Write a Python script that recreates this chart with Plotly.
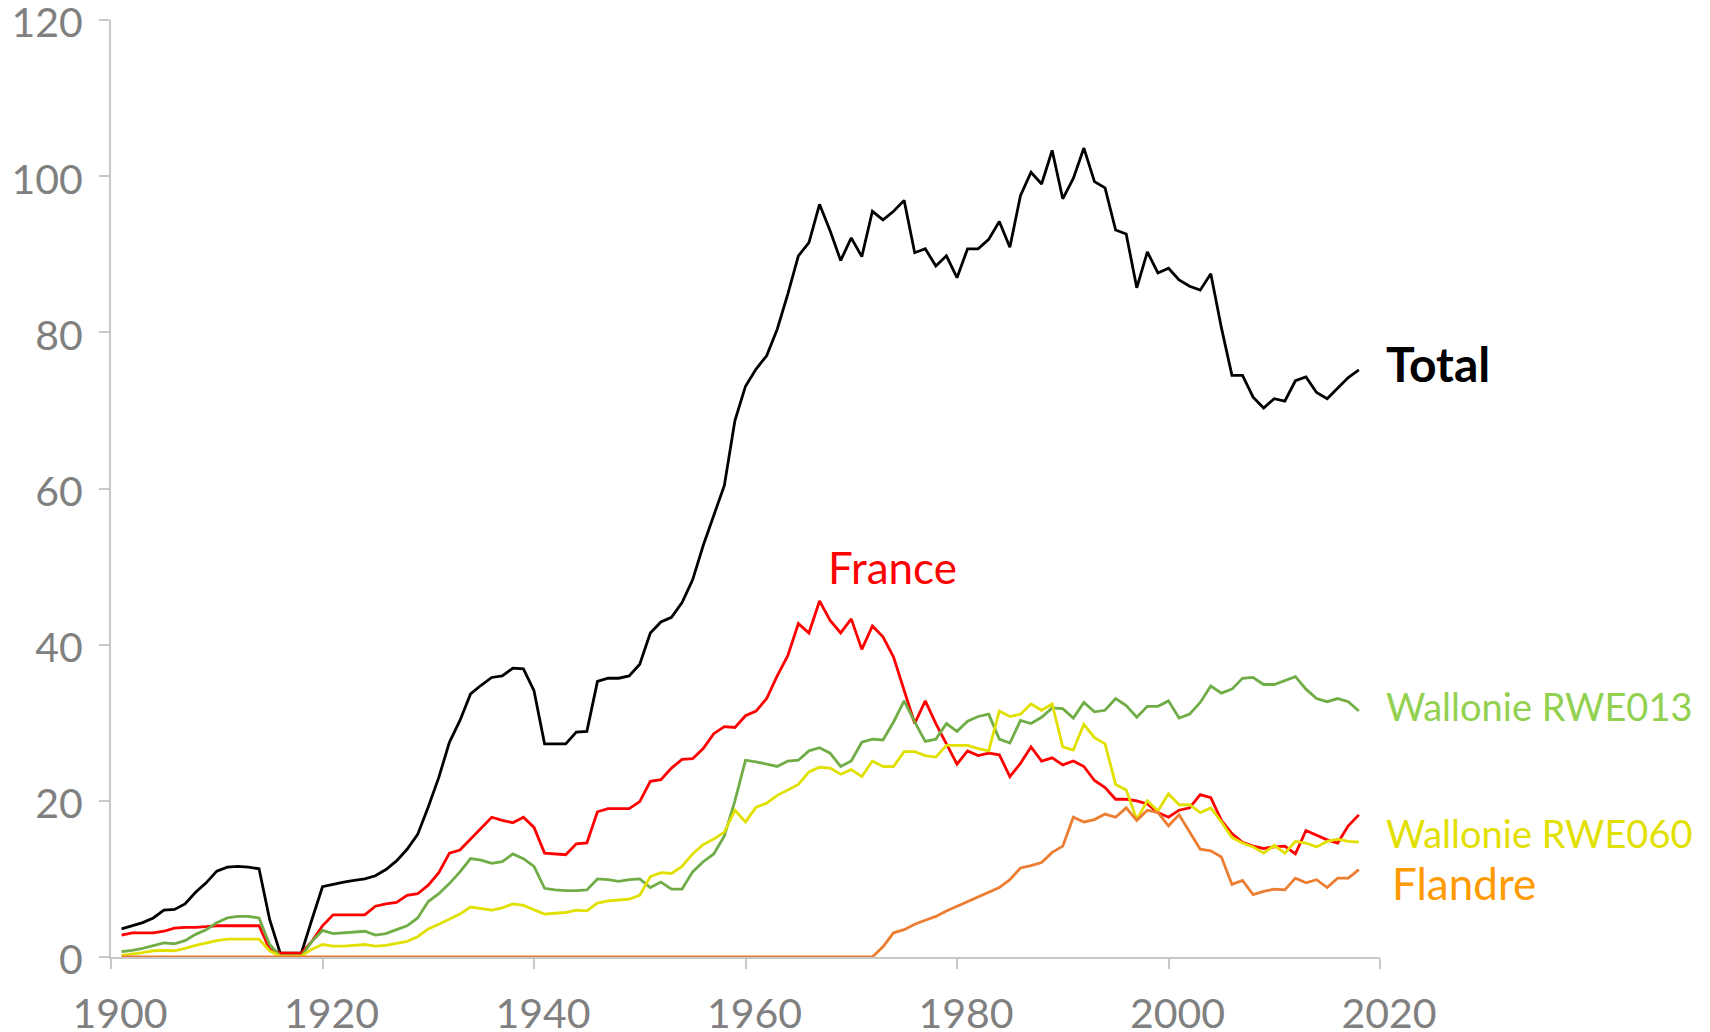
import plotly.graph_objects as go

years = list(range(1901, 2019))

total = [3.6, 4.0, 4.4, 5.0, 6.0, 6.1, 6.8, 8.3, 9.5, 11.0,
         11.5, 11.6, 11.5, 11.3, 4.8, 0.5, 0.5, 0.5, 4.8, 9.0,
         9.3, 9.6, 9.8, 10.0, 10.4, 11.2, 12.3, 13.8, 15.7, 19.2,
         23.0, 27.5, 30.3, 33.7, 34.8, 35.8, 36.0, 37.0, 36.9, 34.1,
         27.3, 27.3, 27.3, 28.8, 28.9, 35.3, 35.7, 35.7, 36.0, 37.5,
         41.5, 42.9, 43.5, 45.4, 48.3, 52.7, 56.5, 60.4, 68.7, 73.1,
         75.3, 77.0, 80.4, 84.9, 89.8, 91.5, 96.4, 93.0, 89.2, 92.1,
         89.7, 95.5, 94.4, 95.5, 96.9, 90.2, 90.7, 88.5, 89.8, 87.0,
         90.7, 90.7, 91.9, 94.2, 90.9, 97.5, 100.5, 99.0, 103.3, 97.1,
         99.7, 103.6, 99.3, 98.5, 93.1, 92.6, 85.7, 90.3, 87.6, 88.2,
         86.7, 85.9, 85.4, 87.5, 80.6, 74.5, 74.5, 71.7, 70.3, 71.5,
         71.2, 73.8, 74.3, 72.3, 71.5, 72.8, 74.2, 75.2]

france = [2.8, 3.1, 3.1, 3.1, 3.3, 3.7, 3.8, 3.8, 3.9, 4.0,
          4.0, 4.0, 4.0, 4.0, 1.0, 0.5, 0.5, 0.5, 2.0, 4.0,
          5.4, 5.4, 5.4, 5.4, 6.5, 6.8, 7.0, 7.9, 8.1, 9.2,
          10.8, 13.3, 13.7, 15.1, 16.6, 17.9, 17.5, 17.2, 17.9, 16.6,
          13.3, 13.2, 13.1, 14.5, 14.6, 18.6, 19.0, 19.0, 19.0, 19.9,
          22.5, 22.7, 24.2, 25.3, 25.4, 26.7, 28.6, 29.5, 29.4, 30.9,
          31.5, 33.1, 36.0, 38.6, 42.7, 41.5, 45.6, 43.1, 41.5, 43.3,
          39.4, 42.4, 41.0, 38.4, 34.1, 29.9, 32.8, 29.9, 27.3, 24.7,
          26.4, 25.8, 26.1, 25.9, 23.1, 24.8, 26.9, 25.1, 25.5, 24.6,
          25.1, 24.4, 22.6, 21.7, 20.2, 20.2, 20.0, 19.6, 18.5, 17.9,
          18.8, 19.1, 20.8, 20.4, 17.5, 15.8, 14.7, 14.2, 13.9, 14.1,
          14.2, 13.2, 16.2, 15.6, 15.0, 14.6, 16.8, 18.2]

rwe013 = [0.7, 0.85, 1.1, 1.5, 1.8, 1.7, 2.1, 2.9, 3.5, 4.4,
          5.0, 5.2, 5.2, 5.0, 1.6, 0.1, 0.1, 0.1, 2.0, 3.4,
          3.0, 3.1, 3.2, 3.3, 2.8, 3.0, 3.5, 4.0, 5.0, 7.1,
          8.1, 9.4, 10.9, 12.6, 12.4, 12.0, 12.2, 13.2, 12.6, 11.6,
          8.8, 8.6, 8.5, 8.5, 8.6, 10.0, 9.9, 9.7, 9.9, 10.0,
          8.9, 9.6, 8.7, 8.7, 10.9, 12.2, 13.2, 15.5, 20.0, 25.2,
          25.0, 24.7, 24.4, 25.1, 25.2, 26.4, 26.8, 26.1, 24.4, 25.1,
          27.5, 27.9, 27.8, 30.1, 32.8, 30.1, 27.6, 27.9, 29.9, 28.9,
          30.2, 30.8, 31.1, 27.9, 27.4, 30.3, 29.9, 30.7, 31.9, 31.8,
          30.6, 32.6, 31.4, 31.6, 33.1, 32.2, 30.7, 32.1, 32.1, 32.8,
          30.6, 31.1, 32.6, 34.7, 33.8, 34.3, 35.7, 35.8, 34.9, 34.9,
          35.4, 35.9, 34.3, 33.1, 32.7, 33.1, 32.7, 31.5]

rwe060 = [0.2, 0.35, 0.55, 0.8, 0.85, 0.8, 1.1, 1.5, 1.8, 2.1,
          2.3, 2.3, 2.3, 2.3, 0.8, 0.1, 0.1, 0.1, 1.0, 1.6,
          1.4, 1.4, 1.5, 1.6, 1.4, 1.5, 1.75, 2.0, 2.6, 3.6,
          4.2, 4.8, 5.5, 6.4, 6.2, 6.0, 6.3, 6.8, 6.6, 6.0,
          5.5, 5.6, 5.7, 6.0, 5.9, 6.9, 7.2, 7.3, 7.4, 7.9,
          10.3, 10.8, 10.7, 11.6, 13.2, 14.4, 15.1, 16.0, 18.8, 17.3,
          19.2, 19.7, 20.7, 21.4, 22.1, 23.7, 24.3, 24.2, 23.4, 24.0,
          23.1, 25.1, 24.4, 24.4, 26.3, 26.3, 25.8, 25.6, 27.1, 27.1,
          27.1, 26.7, 26.4, 31.5, 30.8, 31.1, 32.4, 31.6, 32.4, 26.9,
          26.5, 29.8, 28.1, 27.3, 22.1, 21.4, 17.6, 20.0, 18.7, 20.9,
          19.5, 19.5, 18.5, 19.1, 17.3, 15.3, 14.6, 14.1, 13.3, 14.3,
          13.3, 14.8, 14.6, 14.1, 14.8, 15.1, 14.8, 14.7]

flandre = [0, 0, 0, 0, 0, 0, 0, 0, 0, 0,
           0, 0, 0, 0, 0, 0, 0, 0, 0, 0,
           0, 0, 0, 0, 0, 0, 0, 0, 0, 0,
           0, 0, 0, 0, 0, 0, 0, 0, 0, 0,
           0, 0, 0, 0, 0, 0, 0, 0, 0, 0,
           0, 0, 0, 0, 0, 0, 0, 0, 0, 0,
           0, 0, 0, 0, 0, 0, 0, 0, 0, 0,
           0, 0, 1.3, 3.1, 3.5, 4.2, 4.7, 5.2, 5.9, 6.5,
           7.0, 7.6, 8.2, 8.9, 9.9, 11.4, 11.7, 12.1, 13.4, 14.2,
           17.9, 17.3, 17.6, 18.3, 17.9, 19.1, 17.5, 18.8, 18.5, 16.8,
           18.2, 16.0, 13.8, 13.6, 12.8, 9.3, 9.8, 8.0, 8.4, 8.7,
           8.6, 10.1, 9.5, 9.9, 8.9, 10.1, 10.1, 11.2]

x_ticks = [1900, 1920, 1940, 1960, 1980, 2000, 2020]
y_ticks = [0, 20, 40, 60, 80, 100, 120]

series = [
    ("Total", total, "#000000"),
    ("France", france, "#ff0000"),
    ("Wallonie RWE013", rwe013, "#70ad47"),
    ("Wallonie RWE060", rwe060, "#e2e000"),
    ("Flandre", flandre, "#ed7d31"),
]

fig = go.Figure()
for name, vals, col in series:
    fig.add_trace(go.Scatter(x=years, y=vals, mode="lines", name=name,
                             line=dict(color=col, width=2.8)))

font_family = "Lato"
axis_col = "#c8c8c8"
tick_font = dict(family=font_family, size=41, color="#808080")

fig.update_layout(
    width=1700, height=1022,
    margin=dict(l=103, r=328, t=12, b=73, autoexpand=False),
    paper_bgcolor="white", plot_bgcolor="white",
    showlegend=False,
    xaxis=dict(range=[1900, 2020], tickvals=x_ticks, ticks="outside",
               ticklen=10, tickwidth=2, tickcolor=axis_col,
               showline=True, linecolor=axis_col, linewidth=2,
               showgrid=False, zeroline=False, tickfont=tick_font,
               layer="below traces", ticklabelstandoff=10, ticklabelshift=9,
               automargin=False, ticklabeloverflow="allow"),
    yaxis=dict(range=[0, 120], tickvals=y_ticks, ticks="outside",
               ticklen=10, tickwidth=2, tickcolor=axis_col,
               showline=True, linecolor=axis_col, linewidth=2,
               showgrid=False, zeroline=False, tickfont=tick_font,
               layer="below traces", ticklabelstandoff=8, ticklabelshift=3,
               automargin=False, ticklabeloverflow="allow"),
)

labels = [
    ("<b>Total</b>", 2020.4, 76.0, "#000000", 48, "left"),
    ("France", 1973.9, 49.9, "#ff0000", 44, "center"),
    ("Wallonie RWE013", 2020.4, 32.2, "#92d050", 38, "left"),
    ("Wallonie RWE060", 2020.4, 15.9, "#e2e000", 38, "left"),
    ("Flandre", 2020.9, 9.5, "#ff9a00", 44, "left"),
]
for txt, lx, ly, col, sz, anc in labels:
    fig.add_annotation(x=(lx - 1900) / 120, y=ly / 120, xref="paper", yref="paper",
                       text=txt, showarrow=False, xanchor=anc, yanchor="middle",
                       font=dict(family=font_family, size=sz, color=col))

fig.write_html("out.html")
